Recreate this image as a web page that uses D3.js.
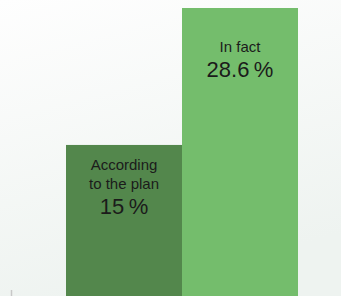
<!DOCTYPE html>
<html>
<head>
<meta charset="utf-8">
<script src="https://cdn.jsdelivr.net/npm/d3@7"></script>
<style>
  html, body { margin: 0; padding: 0; }
  body { width: 341px; height: 296px; overflow: hidden; }
  text { font-family: "Liberation Sans", Arial, sans-serif; fill: #1b1b1b; }
</style>
</head>
<body>
<div id="chart"></div>
<script>
// data
var categories = ["plan", "fact"];
var labels = [["According", "to the plan"], ["In fact"]];
var values = [15, 28.6];
var valueText = ["15\u2009%", "28.6\u2009%"];
var colors = ["#53874c", "#74bd6c"];

var width = 341, height = 296;
var margin = {top: 8, right: 43, bottom: 0, left: 66};

var svg = d3.select("#chart").append("svg")
    .attr("width", width)
    .attr("height", height);

// soft background
var defs = svg.append("defs");
var grad = defs.append("linearGradient")
    .attr("id", "bg")
    .attr("x1", "0").attr("y1", "0")
    .attr("x2", "0.3").attr("y2", "1");
grad.append("stop").attr("offset", "0").attr("stop-color", "#fefefe");
grad.append("stop").attr("offset", "1").attr("stop-color", "#eef3f0");
svg.append("rect")
    .attr("width", width).attr("height", height)
    .attr("fill", "url(#bg)");

var xScale = d3.scaleBand()
    .domain(categories)
    .range([margin.left, width - margin.right])
    .padding(0);

var yScale = d3.scaleLinear()
    .domain([0, d3.max(values)])
    .range([height - margin.bottom, margin.top]);

// little axis stub bottom left
svg.append("line")
    .attr("x1", 11.5).attr("x2", 11.5)
    .attr("y1", 290).attr("y2", height)
    .attr("stroke", "#c8c8c8")
    .attr("stroke-width", 1.5);

var bars = svg.selectAll(".bar")
    .data(categories)
    .enter().append("g")
    .attr("class", "bar");

bars.append("rect")
    .attr("x", function(d) { return xScale(d); })
    .attr("y", function(d, i) { return yScale(values[i]); })
    .attr("width", xScale.bandwidth())
    .attr("height", function(d, i) { return yScale(0) - yScale(values[i]); })
    .attr("fill", function(d, i) { return colors[i]; });

// value text sits 69px under the bar top, label lines stacked above it
bars.append("text")
    .attr("x", function(d) { return xScale(d) + xScale.bandwidth() / 2; })
    .attr("y", function(d, i) { return yScale(values[i]) + 69; })
    .attr("text-anchor", "middle")
    .style("font-size", "22px")
    .text(function(d, i) { return valueText[i]; });

bars.each(function(d, i) {
    var g = d3.select(this);
    var cx = xScale(d) + xScale.bandwidth() / 2;
    var base = yScale(values[i]) + 69 - 25;
    var lines = labels[i];
    lines.forEach(function(line, j) {
        g.append("text")
            .attr("x", cx)
            .attr("y", base - (lines.length - 1 - j) * 19)
            .attr("text-anchor", "middle")
            .style("font-size", "15px")
            .text(line);
    });
});
</script>
</body>
</html>
